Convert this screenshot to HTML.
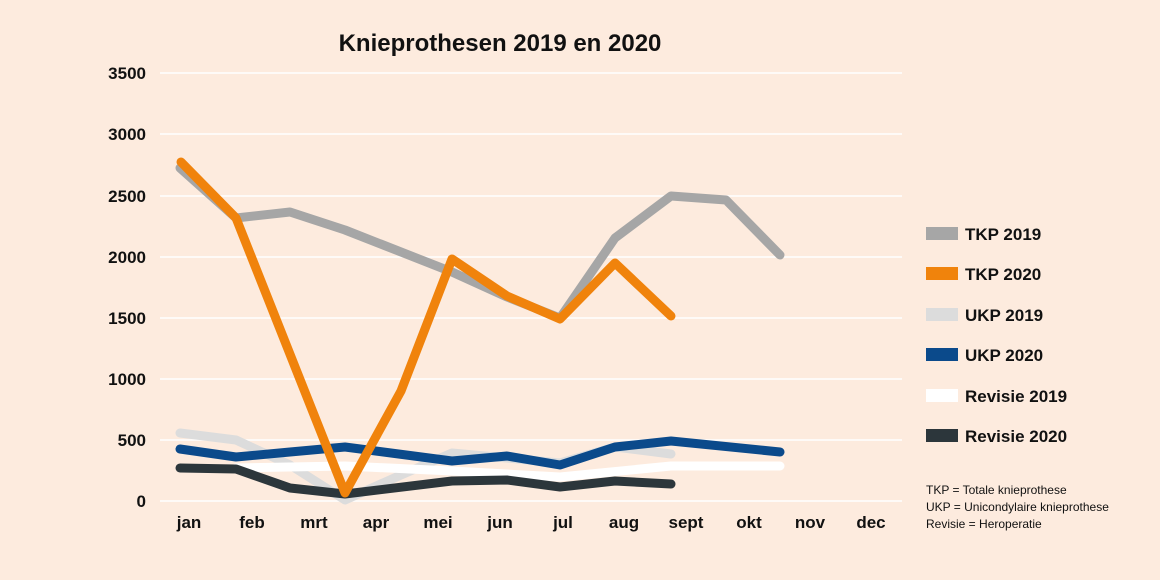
<!DOCTYPE html>
<html><head><meta charset="utf-8"><style>
body{margin:0;background:#fdebde;}
svg{display:block;font-family:"Liberation Sans",sans-serif;}
</style></head><body>
<svg width="1160" height="580" viewBox="0 0 1160 580">
<rect width="1160" height="580" fill="#fdebde"/>
<text x="500" y="51" text-anchor="middle" font-size="24" font-weight="bold" fill="#111">Knieprothesen 2019 en 2020</text>
<g stroke="#fff" stroke-width="1.5">
<line x1="160" x2="902" y1="73" y2="73"/><line x1="160" x2="902" y1="134" y2="134"/>
<line x1="160" x2="902" y1="196" y2="196"/><line x1="160" x2="902" y1="257" y2="257"/>
<line x1="160" x2="902" y1="318" y2="318"/><line x1="160" x2="902" y1="379" y2="379"/>
<line x1="160" x2="902" y1="440" y2="440"/><line x1="160" x2="902" y1="501" y2="501"/>
</g>
<g font-size="17" font-weight="bold" fill="#111" text-anchor="end">
<text x="146" y="79">3500</text><text x="146" y="140">3000</text><text x="146" y="202">2500</text>
<text x="146" y="263">2000</text><text x="146" y="324">1500</text><text x="146" y="385">1000</text>
<text x="146" y="446">500</text><text x="146" y="507">0</text>
</g>
<g font-size="17" font-weight="bold" fill="#111" text-anchor="middle">
<text x="189" y="528">jan</text><text x="252" y="528">feb</text><text x="314" y="528">mrt</text>
<text x="376" y="528">apr</text><text x="438" y="528">mei</text><text x="500" y="528">jun</text>
<text x="563" y="528">jul</text><text x="624" y="528">aug</text><text x="686" y="528">sept</text>
<text x="749" y="528">okt</text><text x="810" y="528">nov</text><text x="871" y="528">dec</text>
</g>
<g fill="none" stroke-width="9" stroke-linejoin="round" stroke-linecap="round">
<polyline stroke="#dcdcdc" points="180,433 236,440 290,465 345,500 401,475 452,453 507,458 560,463 615,447 671,454"/>
<polyline stroke="#ffffff" points="236,468 345,466 452,471 560,477 671,466 780,466"/>
<polyline stroke="#2c363b" points="180,468 236,469 290,488 345,494 452,481 507,480 560,487 615,481 671,484"/>
<polyline stroke="#0b4a8b" points="180,449 236,457 290,452 345,447 452,461 507,456 560,465 615,447 671,441 780,452"/>
<polyline stroke="#a6a6a6" points="180,168 236,218 290,212 345,230 452,272 507,297 560,318 615,238 671,196 726,200 780,255"/>
<polyline stroke="#f0830c" points="181,162 236,218 345,493 401,391 452,259 507,296 560,319 615,263 671,316"/>
</g>
<g font-size="17" font-weight="bold" fill="#111">
<rect x="926" y="227" width="32" height="13" fill="#a6a6a6"/><text x="965" y="240">TKP 2019</text>
<rect x="926" y="267" width="32" height="13" fill="#f0830c"/><text x="965" y="280">TKP 2020</text>
<rect x="926" y="308" width="32" height="13" fill="#dcdcdc"/><text x="965" y="321">UKP 2019</text>
<rect x="926" y="348" width="32" height="13" fill="#0b4a8b"/><text x="965" y="361">UKP 2020</text>
<rect x="926" y="389" width="32" height="13" fill="#ffffff"/><text x="965" y="402">Revisie 2019</text>
<rect x="926" y="429" width="32" height="13" fill="#2c363b"/><text x="965" y="442">Revisie 2020</text>
</g>
<g font-size="12" fill="#111">
<text x="926" y="494">TKP = Totale knieprothese</text>
<text x="926" y="511">UKP = Unicondylaire knieprothese</text>
<text x="926" y="528">Revisie = Heroperatie</text>
</g>
</svg>
</body></html>
